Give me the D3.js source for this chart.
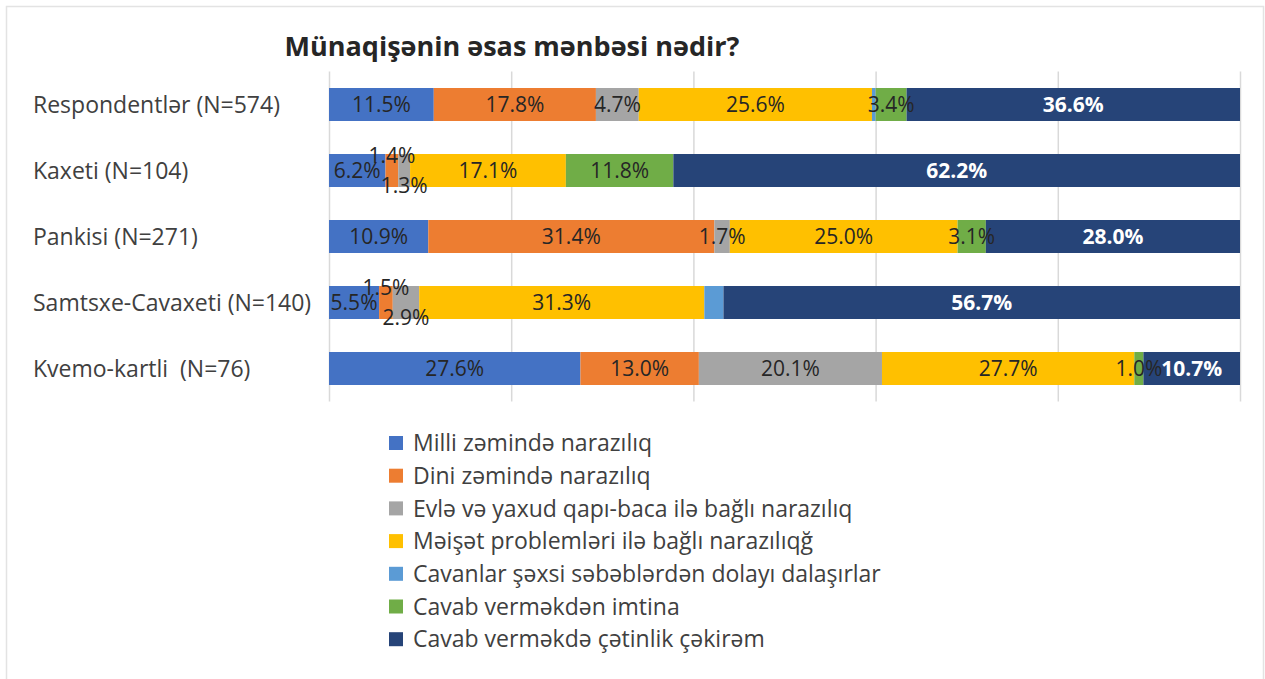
<!DOCTYPE html>
<html>
<head>
<meta charset="utf-8">
<script src="https://cdn.jsdelivr.net/npm/d3@7"></script>
<style>
  html, body { margin: 0; padding: 0; background: #ffffff; }
  svg { display: block; }
  text { font-family: "Open Sans", "Noto Sans", sans-serif; }
</style>
</head>
<body>
<svg id="chart" width="1265" height="679"></svg>
<script>
// Regions surveyed (with sample size)
const categories = [
  "Respondentlər (N=574)",
  "Kaxeti (N=104)",
  "Pankisi (N=271)",
  "Samtsxe-Cavaxeti (N=140)",
  "Kvemo-kartli  (N=76)"
];

// Answer options, in stacking order
const seriesNames = [
  "Milli zəmində narazılıq",
  "Dini zəmində narazılıq",
  "Evlə və yaxud qapı-baca ilə bağlı narazılıq",
  "Məişət problemləri ilə bağlı narazılıqğ",
  "Cavanlar şəxsi səbəblərdən dolayı dalaşırlar",
  "Cavab verməkdən imtina",
  "Cavab verməkdə çətinlik çəkirəm"
];

// Shares in percent, one value per region
const milli    = [11.5,  6.2, 10.9,  5.5, 27.6];
const dini     = [17.8,  1.4, 31.4,  1.5, 13.0];
const evle     = [ 4.7,  1.3,  1.7,  2.9, 20.1];
const meiset   = [25.6, 17.1, 25.0, 31.3, 27.7];
const cavanlar = [ 0.4,  0.0,  0.0,  2.1,  0.0];
const imtina   = [ 3.4, 11.8,  3.1,  0.0,  1.0];
const cetinlik = [36.6, 62.2, 28.0, 56.7, 10.7];

const xTicks = [0, 20, 40, 60, 80, 100];

const seriesValues = [milli, dini, evle, meiset, cavanlar, imtina, cetinlik];
const colors = ["#4472C4", "#ED7D31", "#A5A5A5", "#FFC000", "#5B9BD5", "#70AD47", "#264478"];
// Which series carry value labels
const showLabel = [true, true, true, true, false, true, true];

const svg = d3.select("#chart");

// chart frame
svg.append("rect")
  .attr("x", 6.5).attr("y", 6.5)
  .attr("width", 1257).attr("height", 690)
  .attr("fill", "#fff")
  .attr("stroke", "#e3e3e3").attr("stroke-width", 1.5);

// title
svg.append("text")
  .attr("x", 512).attr("y", 56)
  .attr("text-anchor", "middle")
  .attr("font-size", 27).attr("font-weight", "bold")
  .attr("fill", "#262626")
  .text("Münaqişənin əsas mənbəsi nədir?");

const x = d3.scaleLinear().domain([0, 100]).range([329, 1240]);
const y = d3.scaleBand().domain(categories).range([71.5, 401.5])
  .paddingInner(0.5).paddingOuter(0.25);

// vertical gridlines
svg.append("g")
  .attr("transform", "translate(0,401.5)")
  .call(d3.axisBottom(x).tickValues(xTicks).tickSize(-330).tickFormat(""))
  .call(g => g.select(".domain").remove())
  .call(g => g.selectAll(".tick line").attr("stroke", "#d9d9d9").attr("stroke-width", 1.5));

// category labels
svg.append("g").selectAll("text")
  .data(categories)
  .join("text")
  .attr("x", 33)
  .attr("y", d => y(d) + y.bandwidth() / 2)
  .attr("dy", "0.35em")
  .attr("font-size", 23)
  .attr("fill", "#404040")
  .style("white-space", "pre")
  .text(d => d);

// stacked data
const rows = categories.map((c, i) => {
  const r = { category: c };
  seriesNames.forEach((s, k) => { r[s] = seriesValues[k][i]; });
  return r;
});
const stacked = d3.stack().keys(seriesNames)(rows);

const layers = svg.append("g").selectAll("g")
  .data(stacked)
  .join("g")
  .attr("fill", (d, k) => colors[k]);

layers.selectAll("rect")
  .data(d => d)
  .join("rect")
  .attr("x", d => x(d[0]))
  .attr("y", d => y(d.data.category))
  .attr("width", d => Math.max(0, Math.min(x(d[1]), x(100)) - x(d[0])))
  .attr("height", y.bandwidth());

// value labels; consecutive narrow labelled segments are split above / below the bar
const labels = [];
categories.forEach((c, i) => {
  let prevSmall = false;
  seriesNames.forEach((s, k) => {
    const layer = stacked[k][i];
    const v = seriesValues[k][i];
    if (!showLabel[k] || v <= 0) return;
    const small = v < 3;
    let dy = 0;
    if (small && prevSmall) {
      labels[labels.length - 1].dy = -15;
      dy = 15;
    }
    prevSmall = small;
    labels.push({
      cx: (x(layer[0]) + x(Math.min(layer[1], 100))) / 2,
      cy: y(c) + y.bandwidth() / 2,
      dy: dy,
      text: v.toFixed(1) + "%",
      light: k === 6
    });
  });
});

svg.append("g").selectAll("text")
  .data(labels)
  .join("text")
  .attr("x", d => d.cx)
  .attr("y", d => d.cy + d.dy)
  .attr("dy", "0.36em")
  .attr("text-anchor", "middle")
  .attr("font-size", 21)
  .attr("font-weight", d => d.light ? "bold" : "normal")
  .attr("fill", d => d.light ? "#ffffff" : "#262626")
  .text(d => d.text);

// legend
const legend = svg.append("g").selectAll("g")
  .data(seriesNames)
  .join("g")
  .attr("transform", (d, k) => `translate(389,${443 + k * 32.7})`);

legend.append("rect")
  .attr("x", 0).attr("y", -7)
  .attr("width", 14).attr("height", 14)
  .attr("fill", (d, k) => colors[k]);

legend.append("text")
  .attr("x", 24)
  .attr("dy", "0.36em")
  .attr("font-size", 23)
  .attr("fill", "#404040")
  .text(d => d);
</script>
</body>
</html>
